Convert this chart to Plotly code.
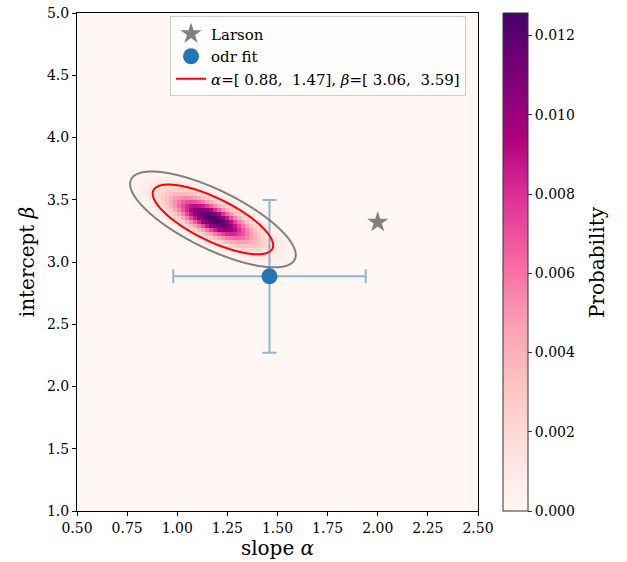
import numpy as np
import plotly.graph_objects as go

# ---- values ----
x_range = [0.5, 2.5]
y_range = [1.0, 5.0]
x_ticks = [0.50, 0.75, 1.00, 1.25, 1.50, 1.75, 2.00, 2.25, 2.50]
y_ticks = [1.0, 1.5, 2.0, 2.5, 3.0, 3.5, 4.0, 4.5, 5.0]
cbar_ticks = [0.000, 0.002, 0.004, 0.006, 0.008, 0.010, 0.012]

# posterior (gaussian) parameters
post_mean_alpha = 1.178
post_mean_beta = 3.342
post_sd_alpha = 0.140
post_sd_beta = 0.1305
post_corr = -0.74
peak_prob = 0.01257
cell_alpha = 0.02
cell_beta = 0.032
red_k = 2.146     # Mahalanobis radius of red contour
gray_k = 2.95     # Mahalanobis radius of gray contour

larson_alpha = [2.0]
larson_beta = [3.32]
odr_alpha = [1.46]
odr_beta = [2.885]
odr_alpha_err = [0.48]
odr_beta_err = [0.613]

legend_red = "<i>α</i>=[ 0.88,  1.47], <i>β</i>=[ 3.06,  3.59]"


def density(a, b):
    za = (a - post_mean_alpha) / post_sd_alpha
    zb = (b - post_mean_beta) / post_sd_beta
    m2 = (za**2 - 2 * post_corr * za * zb + zb**2) / (1 - post_corr**2)
    return np.exp(-0.5 * m2)


# heatmap grid
xc = np.arange(x_range[0] + cell_alpha / 2, x_range[1], cell_alpha)
yc = np.arange(y_range[0] + cell_beta / 2, y_range[1], cell_beta)
XX, YY = np.meshgrid(xc, yc)
Z = peak_prob * density(XX, YY)

# fine grid for contours
xf = np.linspace(0.5, 2.5, 601)
yf = np.linspace(1.0, 5.0, 801)
XF, YF = np.meshgrid(xf, yf)
ZF = density(XF, YF)
red_level = float(np.exp(-0.5 * red_k**2))
gray_level = float(np.exp(-0.5 * gray_k**2))

FONT = "DejaVu Serif"

fig = go.Figure()
fig.add_trace(go.Heatmap(
    x=xc, y=yc, z=Z, zmin=0, zmax=peak_prob, colorscale="RdPu",
    showscale=True, hoverinfo="skip",
    colorbar=dict(
        x=1.062, xanchor="left", xpad=0, y=0, yanchor="bottom", ypad=0,
        len=1, lenmode="fraction",
        thickness=25, outlinecolor="#333333", outlinewidth=1,
        tickmode="array", tickvals=cbar_ticks, tickformat=".3f",
        ticks="outside", ticklen=4, tickcolor="#333333",
        tickfont=dict(family=FONT, size=14, color="black"),
    ),
))
for lvl, col in [(gray_level, "gray"), (red_level, "red")]:
    fig.add_trace(go.Contour(
        x=xf, y=yf, z=ZF, showscale=False, hoverinfo="skip", showlegend=False,
        contours=dict(start=lvl, end=lvl, size=1, coloring="none"),
        line=dict(color=col, width=2), autocontour=False,
    ))

fig.add_trace(go.Scatter(
    x=larson_alpha, y=larson_beta, mode="markers", name="Larson",
    marker=dict(symbol="star", size=16, color="gray"),
))
fig.add_trace(go.Scatter(
    x=odr_alpha, y=odr_beta, mode="markers", name="odr fit",
    marker=dict(symbol="circle", size=16, color="#1f77b4"),
    error_x=dict(type="data", array=odr_alpha_err, color="rgba(31,119,180,0.5)",
                 thickness=2, width=7),
    error_y=dict(type="data", array=odr_beta_err, color="rgba(31,119,180,0.5)",
                 thickness=2, width=7),
))
fig.add_trace(go.Scatter(
    x=[None], y=[None], mode="lines", name=legend_red,
    line=dict(color="red", width=2),
))

axis_common = dict(
    showline=True, mirror=True, linecolor="black", linewidth=1,
    ticks="outside", ticklen=4, tickcolor="black", showgrid=False, zeroline=False,
    tickfont=dict(family=FONT, size=14, color="black"),
    ticklabeloverflow="allow",
)
fig.update_xaxes(range=x_range, tickvals=x_ticks, tickformat=".2f",
                 title=dict(text="slope <i>α</i>", font=dict(family=FONT, size=20, color="black"),
                            standoff=4),
                 **axis_common)
fig.update_yaxes(range=y_range, tickvals=y_ticks, tickformat=".1f",
                 title=dict(text="intercept <i>β</i>", font=dict(family=FONT, size=20, color="black"),
                            standoff=6),
                 **axis_common)

fig.add_annotation(
    text="Probability", xref="paper", yref="paper", x=1.297, y=0.5,
    xanchor="center", yanchor="middle", textangle=-90, showarrow=False,
    font=dict(family=FONT, size=20, color="black"),
)

fig.update_layout(
    width=627, height=562,
    margin=dict(l=77, r=149, t=13, b=51, autoexpand=False),
    paper_bgcolor="white", plot_bgcolor="white",
    font=dict(family=FONT, color="black"),
    legend=dict(x=0.232, y=0.993, xanchor="left", yanchor="top",
                bgcolor="rgba(255,255,255,0.8)", bordercolor="#cccccc", borderwidth=1,
                font=dict(family=FONT, size=15, color="black"),
                tracegroupgap=0, itemwidth=30),
)

# remove the default 8px page margin so the figure fills the window exactly
fig.write_html("out.html", config={"displayModeBar": False},
               post_script="document.body.style.margin='0';")
